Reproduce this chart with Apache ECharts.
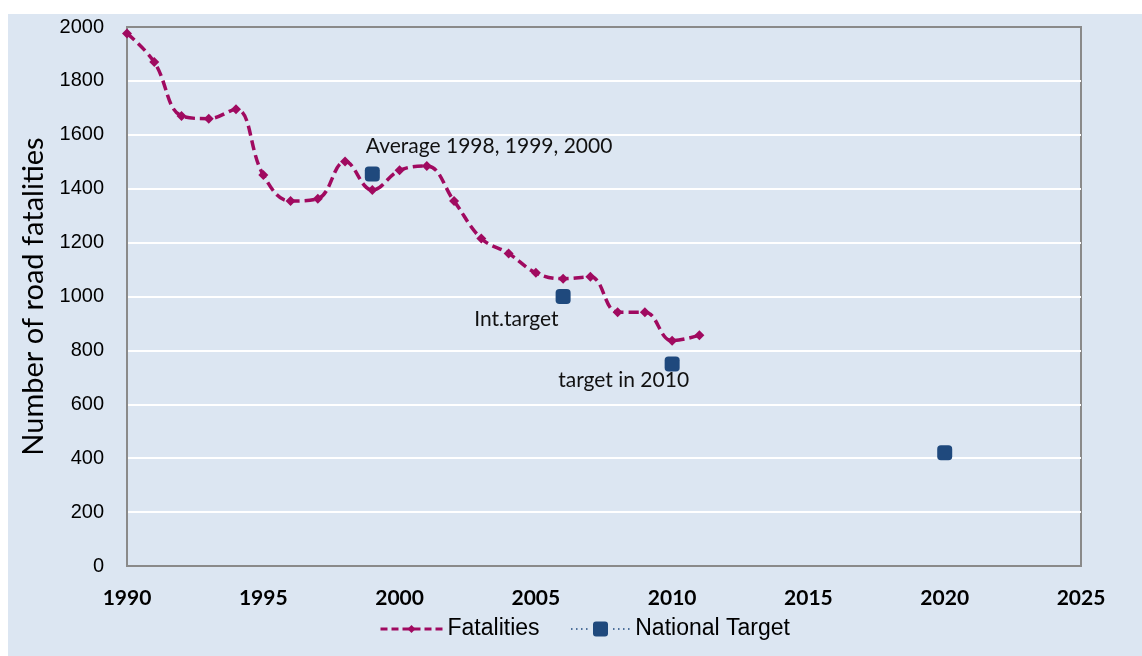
<!DOCTYPE html>
<html>
<head>
<meta charset="utf-8">
<title>Road fatalities</title>
<script src="https://cdn.jsdelivr.net/npm/echarts@6/dist/echarts.min.js"></script>
<style>
    html, body { margin: 0; padding: 0; background: #fff; }
    #chart {
        position: absolute;
        left: 8px;
        top: 14px;
        width: 1134px;
        height: 642px;
        background: #dce6f2;
    }
</style>
</head>
<body>
<div id="chart"></div>
<script>
var years = [1990, 1991, 1992, 1993, 1994, 1995, 1996, 1997, 1998, 1999, 2000,
    2001, 2002, 2003, 2004, 2005, 2006, 2007, 2008, 2009, 2010, 2011];
var fatalities = [1976, 1870, 1670, 1660, 1695, 1451, 1354, 1363, 1501, 1395, 1468,
    1484, 1354, 1215, 1160, 1088, 1066, 1073, 942, 942, 836, 856];

var targetYears = [1999, 2006, 2010, 2020];
var targetValues = [1455, 1000, 750, 420];
var targetNotes = ["Average 1998, 1999, 2000", "Int.target", "target in 2010", ""];

var yTicks = [0, 200, 400, 600, 800, 1000, 1200, 1400, 1600, 1800, 2000];
var xTicks = [1990, 1995, 2000, 2005, 2010, 2015, 2020, 2025];

(function() {
    var chart = echarts.init(document.getElementById("chart"), null, { renderer: "canvas" });

    var purple = "#a00a60",
        navy = "#1f497d",
        calibri = "Lato, 'Open Sans', sans-serif",
        narrow = "'Liberation Sans', Arial, sans-serif";

    // where each note sits, relative to its marker
    var notePos = [
        { position: [1, -20], align: "left" },
        { position: [3, 30], align: "right" },
        { position: [-41, 24], align: "center" },
        { position: [0, 0], align: "left" }
    ];

    var fatalData = years.map(function(y, i) {
        return [y, fatalities[i]];
    });
    var targetData = targetYears.map(function(y, i) {
        return {
            value: [y, targetValues[i]],
            label: {
                show: !!targetNotes[i],
                formatter: targetNotes[i],
                position: notePos[i].position,
                align: notePos[i].align,
                verticalAlign: "middle"
            }
        };
    });

    // dotted line + rounded square, like the excel legend key
    var targetIcon = "path://M0 6.7h1.5v1.6h-1.5Z M5 6.7h1.5v1.6h-1.5Z M10 6.7h1.5v1.6h-1.5Z M15 6.7h1.5v1.6h-1.5Z" +
        " M25 0H34Q37 0 37 3V12Q37 15 34 15H25Q22 15 22 12V3Q22 0 25 0Z" +
        " M42 6.7h1.5v1.6h-1.5Z M47 6.7h1.5v1.6h-1.5Z M52 6.7h1.5v1.6h-1.5Z M57 6.7h1.5v1.6h-1.5Z";

    var legendText = {
        fontFamily: narrow,
        fontSize: 23,
        color: "#000",
        lineHeight: 30
    };

    var option = {
        animation: false,
        grid: {
            left: 119,
            top: 13,
            right: 61,
            bottom: 90,
            show: true,
            borderColor: "#8a8a8a",
            borderWidth: 2,
            backgroundColor: "transparent"
        },
        legend: [{
            data: ["Fatalities"],
            left: 371,
            top: 600,
            padding: 0,
            itemWidth: 62,
            itemHeight: 10,
            itemGap: 5,
            lineStyle: { type: [7, 4], width: 3 },
            textStyle: legendText
        }, {
            data: [{ name: "National Target", icon: targetIcon, itemStyle: { opacity: 1 } }],
            left: 563,
            top: 600,
            padding: 0,
            itemWidth: 60,
            itemHeight: 15,
            textStyle: legendText
        }],
        xAxis: {
            type: "value",
            min: xTicks[0],
            max: xTicks[xTicks.length - 1],
            interval: 5,
            axisLine: { show: true, lineStyle: { color: "#8a8a8a", width: 2 } },
            axisTick: { show: false },
            splitLine: { show: false },
            axisLabel: {
                margin: 22,
                fontFamily: calibri,
                fontWeight: "bold",
                fontSize: 21,
                color: "#000",
                formatter: function(v) { return String(v); }
            }
        },
        yAxis: {
            type: "value",
            min: yTicks[0],
            max: yTicks[yTicks.length - 1],
            interval: 200,
            name: "Number of road fatalities",
            nameLocation: "middle",
            nameGap: 64,
            nameTextStyle: {
                fontFamily: calibri,
                fontSize: 29,
                color: "#000"
            },
            axisLine: { show: true, lineStyle: { color: "#8a8a8a", width: 2 } },
            axisTick: { show: false },
            splitLine: {
                show: true,
                showMinLine: false,
                showMaxLine: false,
                lineStyle: { color: "#ffffff", width: 2 }
            },
            axisLabel: {
                margin: 23,
                fontFamily: narrow,
                fontSize: 20,
                color: "#000",
                formatter: function(v) { return String(v); }
            }
        },
        series: [{
            name: "Fatalities",
            type: "line",
            data: fatalData,
            smooth: 0.4,
            symbol: "diamond",
            symbolSize: 10,
            showAllSymbol: true,
            color: purple,
            lineStyle: { color: purple, width: 3.5, type: [10, 5] },
            itemStyle: { color: purple },
            z: 3
        }, {
            name: "National Target",
            type: "scatter",
            data: targetData,
            symbol: "roundRect",
            symbolSize: 15,
            color: navy,
            itemStyle: { color: navy, opacity: 1 },
            label: {
                fontFamily: calibri,
                fontSize: 21,
                color: "#111"
            },
            z: 4
        }]
    };

    chart.setOption(option);
}());
</script>
</body>
</html>
